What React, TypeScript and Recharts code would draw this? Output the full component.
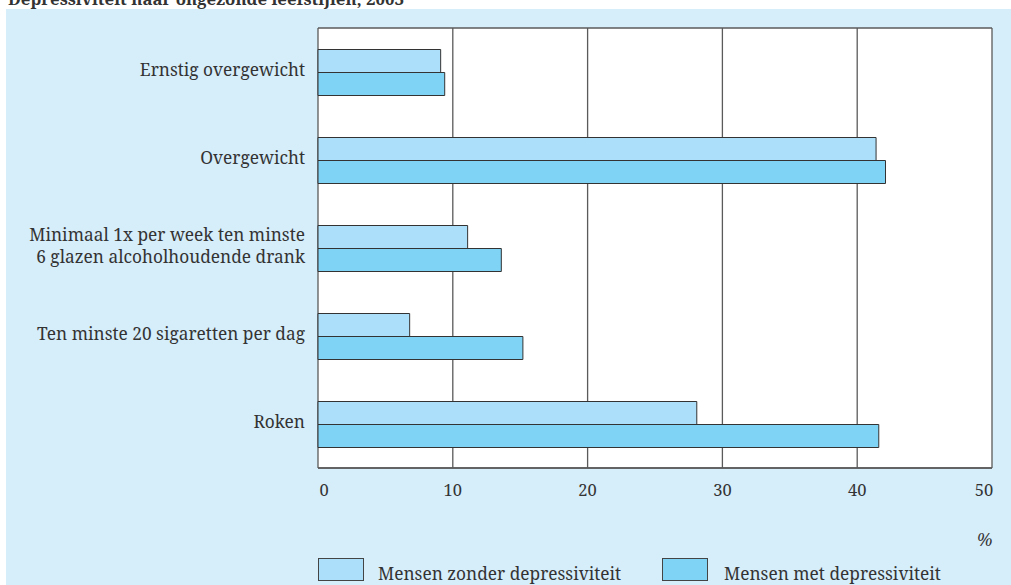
import {
  BarChart,
  Bar,
  XAxis,
  YAxis,
  CartesianGrid,
} from 'recharts';

const categories = [
  'Ernstig overgewicht',
  'Overgewicht',
  'Minimaal 1x per week ten minste\n6 glazen alcoholhoudende drank',
  'Ten minste 20 sigaretten per dag',
  'Roken',
];
const zonderDepressiviteit = [9.1, 41.4, 11.1, 6.8, 28.1];
const metDepressiviteit = [9.4, 42.1, 13.6, 15.2, 41.6];
const xTicks = [0, 10, 20, 30, 40, 50];

const seriesNames = ['Mensen zonder depressiviteit', 'Mensen met depressiviteit'];
const seriesColors = ['#ACE0FA', '#7FD3F5'];

const data = categories.map((name, i) => ({
  name,
  zonder: zonderDepressiviteit[i],
  met: metDepressiviteit[i],
}));

const FONT = '"Noto Serif", "Liberation Serif", serif';
const TEXT = '#333';
const FS = 17.3;

const CategoryTick = (props: any) => {
  const { x, y, payload } = props;
  const lines = String(payload.value).split('\n');
  const lh = 22.7;
  const start = y - ((lines.length - 1) * lh) / 2;
  return (
    <text x={x} y={start} textAnchor="end" fill={TEXT} fontFamily={FONT} fontSize={FS}>
      {lines.map((l, i) => (
        <tspan key={i} x={x} y={start + i * lh + 4}>
          {l}
        </tspan>
      ))}
    </text>
  );
};

// first and last tick labels sit a bit inside the plot in the original
const ValueTick = (props: any) => {
  const { x, y, payload } = props;
  const v = payload.value;
  const shift = v === xTicks[0] ? 6 : v === xTicks[xTicks.length - 1] ? -8 : 0;
  return (
    <text x={x + shift} y={y} dy="0.71em" textAnchor="middle" fill={TEXT} fontFamily={FONT} fontSize={16.5}>
      {v}
    </text>
  );
};

const App = () => {
  return (
    <div style={{ position: 'absolute', left: 0, top: 0, width: 1011, height: 585, overflow: 'hidden', background: '#fff' }}>
      <div style={{ position: 'absolute', left: 6, top: 9, width: 1005, height: 576, background: '#D6EDFA' }} />
      <div
        style={{
          position: 'absolute', left: 8, top: -10, fontFamily: FONT, fontWeight: 'bold',
          fontSize: 16.8, color: TEXT, whiteSpace: 'nowrap', lineHeight: '17px',
        }}
      >
        Depressiviteit naar ongezonde leefstijlen, 2003
      </div>
      <div style={{ position: 'absolute', left: 0, top: 0 }}>
        <BarChart
          width={1011}
          height={585}
          data={data}
          layout="vertical"
          margin={{ top: 28, right: 19, bottom: 77, left: 0 }}
          barCategoryGap={21.5}
          barGap={0}
        >
          <CartesianGrid
            fill="#fff"
            stroke="#5a5a5a"
            strokeWidth={1.3}
            horizontalCoordinatesGenerator={({ offset }: any) => [offset.top, offset.top + offset.height]}
          />
          <XAxis
            type="number"
            domain={[0, 50]}
            ticks={xTicks}
            tickLine={false}
            tickSize={0}
            tickMargin={16}
            axisLine={{ stroke: '#5a5a5a', strokeWidth: 1.3 }}
            height={40}
            tick={<ValueTick />}
          />
          <YAxis
            type="category"
            dataKey="name"
            width={318}
            axisLine={false}
            tickLine={false}
            tickSize={0}
            tickMargin={13}
            interval={0}
            tick={<CategoryTick />}
          />
          <Bar dataKey="zonder" name={seriesNames[0]} fill={seriesColors[0]} stroke="#333" strokeWidth={1} isAnimationActive={false} />
          <Bar dataKey="met" name={seriesNames[1]} fill={seriesColors[1]} stroke="#333" strokeWidth={1} isAnimationActive={false} />
        </BarChart>
      </div>
      <div
        style={{
          position: 'absolute', left: 977, top: 531, fontFamily: FONT, fontStyle: 'italic',
          fontSize: FS, color: TEXT, lineHeight: '17px',
        }}
      >
        %
      </div>
      {seriesNames.map((s, i) => (
        <div key={s}>
          <div
            style={{
              position: 'absolute', left: i === 0 ? 318 : 662, top: 558, width: 44, height: 21,
              background: seriesColors[i], border: '1px solid #444',
            }}
          />
          <div
            style={{
              position: 'absolute', left: i === 0 ? 378 : 724, top: 565, fontFamily: FONT,
              fontSize: FS, color: TEXT, lineHeight: '17px', whiteSpace: 'nowrap',
            }}
          >
            {s}
          </div>
        </div>
      ))}
    </div>
  );
};

export default App;
